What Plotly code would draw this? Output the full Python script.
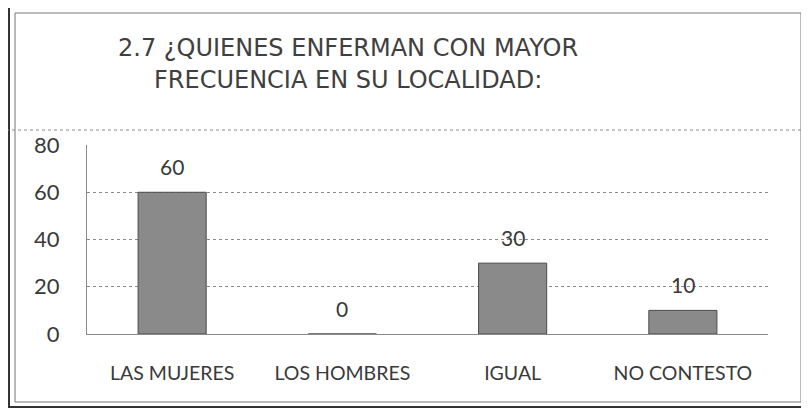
import plotly.graph_objects as go

categories = ["LAS MUJERES", "LOS HOMBRES", "IGUAL", "NO CONTESTO"]
values = [60, 0, 30, 10]
y_ticks = [0, 20, 40, 60, 80]
title_lines = ["2.7 ¿QUIENES ENFERMAN CON MAYOR", "FRECUENCIA EN SU LOCALIDAD:"]

W, H = 809, 413
OFF = 8  # page body margin offset
L, R, T, B = 87 - OFF, 768 - OFF, 145 - OFF, 334 - OFF
pw, ph = R - L, B - T


def px(x):
    return (x - OFF - L) / pw


def py(y):
    return (B - (y - OFF)) / ph


FONT = "Lato"
TXT = "#3a3a3a"

fig = go.Figure()
fig.add_trace(go.Bar(
    x=categories, y=values,
    marker=dict(color="#8a8a8a", line=dict(color="#4a4a4a", width=1)),
    width=0.4, hoverinfo="x+y",
))

# data labels above bars
for c, v in zip(categories, values):
    fig.add_annotation(x=c, y=v, text=str(v), showarrow=False,
                       xref="x", yref="y", yanchor="middle", yshift=26,
                       font=dict(family=FONT, size=21, color=TXT))

# title
for i, line in enumerate(title_lines):
    fig.add_annotation(x=px(348), y=py([48, 80][i]), xref="paper", yref="paper",
                       text=line, showarrow=False, xanchor="center", yanchor="middle",
                       font=dict(family="DejaVu Sans", size=24, color="#404040"))

shapes = []
# outer double frame
shapes.append(dict(type="rect", xref="paper", yref="paper",
                   x0=px(9), x1=px(806), y0=py(407), y1=py(4),
                   line=dict(color="#333333", width=2)))
shapes.append(dict(type="rect", xref="paper", yref="paper",
                   x0=px(15), x1=px(801), y0=py(402), y1=py(13),
                   line=dict(color="#777777", width=1)))
# title separator
shapes.append(dict(type="line", xref="paper", yref="paper",
                   x0=px(0), x1=px(809), y0=py(130), y1=py(130),
                   line=dict(color="#8a8a8a", width=1, dash="dot")))
fig.update_layout(shapes=shapes)

fig.update_layout(
    width=W, height=H,
    margin=dict(l=L, r=W - R, t=T, b=H - B),
    paper_bgcolor="white", plot_bgcolor="white",
    showlegend=False,
    bargap=0.6,
    xaxis=dict(showgrid=False, showline=True, linecolor="#8a8a8a", linewidth=1,
               ticks="", ticklabelstandoff=22,
               tickfont=dict(family=FONT, size=19.5, color=TXT)),
    yaxis=dict(range=[0, 80], tickvals=y_ticks, showgrid=True,
               gridcolor="#8a8a8a", gridwidth=1, griddash="dot",
               showline=True, linecolor="#8a8a8a", linewidth=1,
               zeroline=False, ticks="", ticklabelstandoff=22,
               tickfont=dict(family=FONT, size=22, color=TXT)),
)

fig.write_html("out.html")
